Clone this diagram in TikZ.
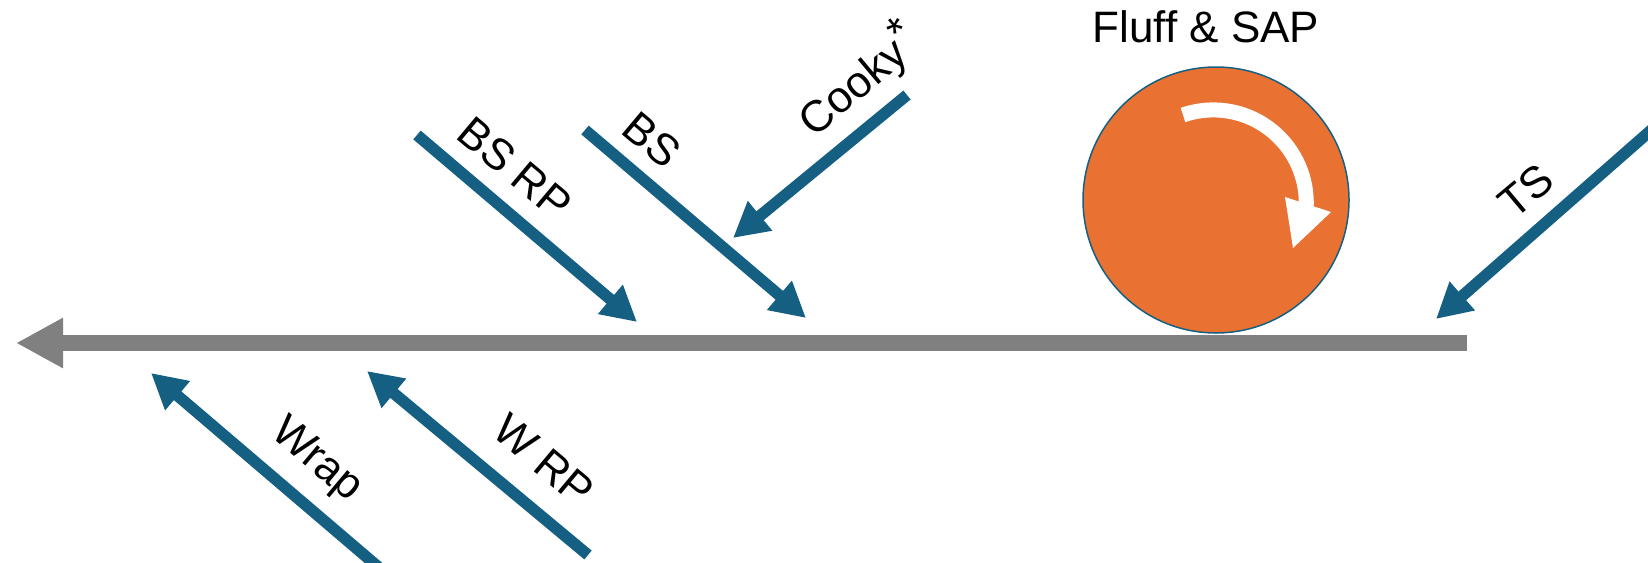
\documentclass[tikz,border=0pt]{standalone}
\usepackage{fontspec}
\setmainfont{Liberation Sans}
\usetikzlibrary{arrows.meta}
\definecolor{flowblue}{RGB}{21,96,130}
\definecolor{ballorange}{RGB}{233,113,50}
\definecolor{linegray}{RGB}{128,128,128}
\tikzset{
  inarrow/.style={draw=flowblue, line width=11.5pt, -{Triangle[length=35pt,width=36pt]}},
  mainline/.style={draw=linegray, line width=16pt, -{Triangle[length=47pt,width=47pt]}},
  lbl/.style={font=\fontsize{44}{52}\selectfont, inner sep=0pt},
}
\begin{document}
\begin{tikzpicture}[x=1pt,y=-1pt]
\useasboundingbox (0,0) rectangle (1648,562);
\clip (0,0) rectangle (1648,562);
% main line
\coordinate (mainstart) at (1467,343);
\coordinate (maintip) at (16,343);
\draw[mainline] (mainstart) -- (maintip);
% ball
\node[circle, draw=flowblue, line width=1.5pt, fill=ballorange, minimum size=266pt, inner sep=0pt] (ball) at (1216,200) {};
\node[lbl, anchor=base] (balltitle) at (1206,42) {Fluff \& SAP};
% white rotation arrow
\draw[white, line width=15pt] (1183,115) arc[start angle=-109, end angle=3, radius=93];
\fill[white] (1285,197) -- (1331,212) -- (1293,248) -- cycle;
% incoming arrows
\coordinate (bsrpS) at (417,135); \coordinate (bsrpT) at (637,322);
\coordinate (bsS) at (585,130);   \coordinate (bsT) at (806,318);
\coordinate (cookyS) at (907,95); \coordinate (cookyT) at (733,238);
\coordinate (tsS) at (1690,96);  \coordinate (tsT) at (1436,319);
\coordinate (wrapS) at (390,577); \coordinate (wrapT) at (151,373);
\coordinate (wrpS) at (588,555);  \coordinate (wrpT) at (367,371);
\draw[inarrow] (bsrpS) -- (bsrpT);
\draw[inarrow] (bsS) -- (bsT);
\draw[inarrow] (cookyS) -- (cookyT);
\draw[inarrow] (tsS) -- (tsT);
\draw[inarrow] (wrapS) -- (wrapT);
\draw[inarrow] (wrpS) -- (wrpT);
% labels
\node[lbl, rotate=-40] (lbsrp) at (515,168) {BS RP};
\node[lbl, rotate=-40] (lbs) at (652,140) {BS};
\node[lbl, rotate=40] (lcooky) at (858,80) {Cooky\raisebox{0.28em}{*}};
\node[lbl, rotate=40] (lts) at (1526,191) {TS};
\node[lbl, rotate=-40] (lwrap) at (316,461) {Wrap};
\node[lbl, rotate=-40] (lwrp) at (544,460) {W RP};
\end{tikzpicture}
\end{document}
